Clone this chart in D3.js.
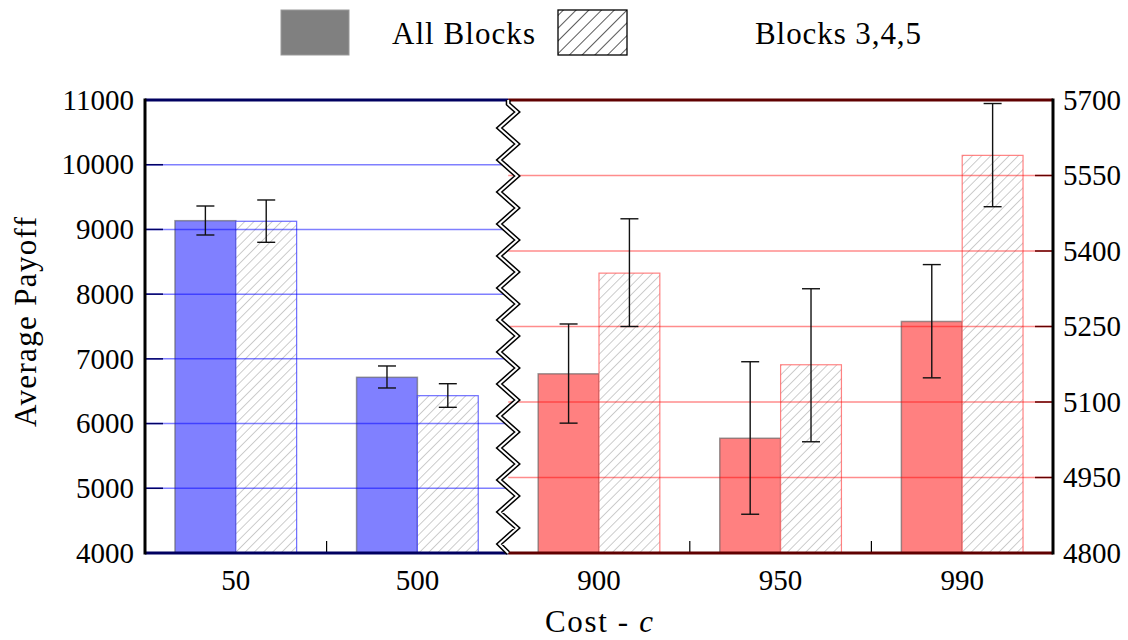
<!DOCTYPE html>
<html>
<head>
<meta charset="utf-8">
<script src="https://cdn.jsdelivr.net/npm/d3@7"></script>
<style>
  body { margin: 0; background: #fff; }
  svg text { font-family: "Liberation Serif", "DejaVu Serif", serif; fill: #000; }
</style>
</head>
<body>
<div id="chart"></div>
<script>
// data
var categories = ["50", "500", "900", "950", "990"];
var allBlocks = [9135, 6715, 5156, 5028, 5260];
var allBlocksLow = [8914, 6550, 5058, 4877, 5148];
var allBlocksHigh = [9362, 6890, 5255, 5180, 5373];
var blocks345 = [9126, 6431, 5356, 5174, 5590];
var blocks345Low = [8801, 6251, 5250, 5021, 5488];
var blocks345High = [9455, 6616, 5464, 5325, 5693];
var leftTicks = [4000, 5000, 6000, 7000, 8000, 9000, 10000, 11000];
var rightTicks = [4800, 4950, 5100, 5250, 5400, 5550, 5700];
var leftCount = 2; // first two categories use the left axis

var svgWidth = 1128;
var svgHeight = 640;
var margin = { top: 100, right: 75, bottom: 87, left: 145 };
var chartWidth = svgWidth - margin.left - margin.right;
var chartHeight = svgHeight - margin.top - margin.bottom;
var tickFont = "29px";
var labelFont = "31px";

var svg = d3.select("#chart").append("svg")
  .attr("width", svgWidth)
  .attr("height", svgHeight);

var defs = svg.append("defs");
function hatch(id, color, size, width) {
  var p = defs.append("pattern")
    .attr("id", id)
    .attr("patternUnits", "userSpaceOnUse")
    .attr("width", size)
    .attr("height", size)
    .attr("patternTransform", "rotate(45)");
  p.append("rect").attr("width", size).attr("height", size).attr("fill", "#fff");
  p.append("line")
    .attr("x1", 0).attr("y1", 0).attr("x2", 0).attr("y2", size)
    .attr("stroke", color).attr("stroke-width", width);
}
hatch("hatchBar", "#9a9a9a", 6.5, 1);
hatch("hatchLegend", "#000", 9, 1.3);

var chartGroup = svg.append("g")
  .attr("transform", `translate(${margin.left}, ${margin.top})`);

var xScale = d3.scaleBand()
  .domain(categories)
  .range([0, chartWidth]);
var bw = xScale.bandwidth();
var breakX = xScale(categories[leftCount]);

var xSub = d3.scaleBand()
  .domain(["all", "b345"])
  .range([-bw * 0.335, bw * 0.335]);

var yLeft = d3.scaleLinear().domain([4000, 11000]).range([chartHeight, 0]);
var yRight = d3.scaleLinear().domain([4800, 5700]).range([chartHeight, 0]);

var rows = categories.map(function (c, i) {
  return {
    cat: c, left: i < leftCount,
    all: allBlocks[i], allLo: allBlocksLow[i], allHi: allBlocksHigh[i],
    b: blocks345[i], bLo: blocks345Low[i], bHi: blocks345High[i]
  };
});
function yOf(d) { return d.left ? yLeft : yRight; }
function cx(d) { return xScale(d.cat) + bw / 2; }

// bars
chartGroup.append("g").selectAll("rect")
  .data(rows)
  .enter().append("rect")
  .attr("x", d => cx(d) + xSub("all"))
  .attr("width", xSub.bandwidth())
  .attr("y", d => yOf(d)(d.all))
  .attr("height", d => chartHeight - yOf(d)(d.all))
  .attr("fill", d => d.left ? "#8080ff" : "#ff8080")
  .attr("stroke", "rgba(90,90,90,0.6)").attr("stroke-width", 1.5);

chartGroup.append("g").selectAll("rect")
  .data(rows)
  .enter().append("rect")
  .attr("x", d => cx(d) + xSub("b345"))
  .attr("width", xSub.bandwidth())
  .attr("y", d => yOf(d)(d.b))
  .attr("height", d => chartHeight - yOf(d)(d.b))
  .attr("fill", "url(#hatchBar)")
  .attr("stroke", d => d.left ? "rgba(60,60,255,0.75)" : "rgba(255,90,90,0.75)")
  .attr("stroke-width", 1.2);

// grid lines, drawn over the bars
chartGroup.append("g").selectAll("line")
  .data(leftTicks.slice(1, -1))
  .enter().append("line")
  .attr("x1", 0).attr("x2", breakX)
  .attr("y1", d => yLeft(d)).attr("y2", d => yLeft(d))
  .attr("stroke", "rgba(0,0,255,0.5)").attr("stroke-width", 1.5);
chartGroup.append("g").selectAll("line")
  .data(rightTicks.slice(1, -1))
  .enter().append("line")
  .attr("x1", breakX).attr("x2", chartWidth)
  .attr("y1", d => yRight(d)).attr("y2", d => yRight(d))
  .attr("stroke", "rgba(255,0,0,0.45)").attr("stroke-width", 1.5);

// inner ticks
chartGroup.append("g").selectAll("line")
  .data(leftTicks.slice(1, -1))
  .enter().append("line")
  .attr("x1", 0).attr("x2", 18)
  .attr("y1", d => yLeft(d)).attr("y2", d => yLeft(d))
  .attr("stroke", "#000066").attr("stroke-width", 1.5);
chartGroup.append("g").selectAll("line")
  .data(rightTicks.slice(1, -1))
  .enter().append("line")
  .attr("x1", chartWidth - 18).attr("x2", chartWidth)
  .attr("y1", d => yRight(d)).attr("y2", d => yRight(d))
  .attr("stroke", "#660000").attr("stroke-width", 1.5);

// error bars
var errs = [];
rows.forEach(function (d) {
  errs.push({ d: d, x: cx(d) + xSub("all") + xSub.bandwidth() / 2, lo: d.allLo, hi: d.allHi });
  errs.push({ d: d, x: cx(d) + xSub("b345") + xSub.bandwidth() / 2, lo: d.bLo, hi: d.bHi });
});
var eg = chartGroup.append("g").selectAll("g").data(errs).enter().append("g")
  .attr("stroke", "#111").attr("stroke-width", 1.4);
eg.append("line")
  .attr("x1", e => e.x).attr("x2", e => e.x)
  .attr("y1", e => yOf(e.d)(e.lo)).attr("y2", e => yOf(e.d)(e.hi));
eg.append("line")
  .attr("x1", e => e.x - 9).attr("x2", e => e.x + 9)
  .attr("y1", e => yOf(e.d)(e.lo)).attr("y2", e => yOf(e.d)(e.lo));
eg.append("line")
  .attr("x1", e => e.x - 9).attr("x2", e => e.x + 9)
  .attr("y1", e => yOf(e.d)(e.hi)).attr("y2", e => yOf(e.d)(e.hi));

// minor ticks between categories
chartGroup.append("g").selectAll("line")
  .data(categories.slice(1).filter((c, i) => i + 1 !== leftCount))
  .enter().append("line")
  .attr("x1", d => xScale(d)).attr("x2", d => xScale(d))
  .attr("y1", chartHeight).attr("y2", chartHeight - 12)
  .attr("stroke", "#000").attr("stroke-width", 1.2);

// frame
chartGroup.append("line").attr("x1", 0).attr("x2", breakX).attr("y1", 0).attr("y2", 0)
  .attr("stroke", "#000060").attr("stroke-width", 3);
chartGroup.append("line").attr("x1", breakX).attr("x2", chartWidth).attr("y1", 0).attr("y2", 0)
  .attr("stroke", "#600000").attr("stroke-width", 3);
chartGroup.append("line").attr("x1", 0).attr("x2", breakX).attr("y1", chartHeight).attr("y2", chartHeight)
  .attr("stroke", "#000060").attr("stroke-width", 3);
chartGroup.append("line").attr("x1", breakX).attr("x2", chartWidth).attr("y1", chartHeight).attr("y2", chartHeight)
  .attr("stroke", "#600000").attr("stroke-width", 3);
chartGroup.append("line").attr("x1", 0).attr("x2", 0).attr("y1", -1.5).attr("y2", chartHeight + 1.5)
  .attr("stroke", "#000").attr("stroke-width", 3);
chartGroup.append("line").attr("x1", chartWidth).attr("x2", chartWidth).attr("y1", -1.5).attr("y2", chartHeight + 1.5)
  .attr("stroke", "#000").attr("stroke-width", 3);

// axis break zigzag
var zig = [[breakX, 0], [breakX, 4]];
var period = 32, amp = 9;
for (var yy = 4; yy < chartHeight - 4; yy += period / 2) {
  var k = Math.round((yy - 4) / (period / 2));
  zig.push([breakX + (k % 2 === 0 ? amp : -amp), Math.min(yy + period / 4, chartHeight - 4)]);
}
zig.push([breakX, chartHeight]);
var zigLine = d3.line();
chartGroup.append("path").attr("d", zigLine(zig))
  .attr("fill", "none").attr("stroke", "#000").attr("stroke-width", 5);
chartGroup.append("path").attr("d", zigLine(zig))
  .attr("fill", "none").attr("stroke", "#fff").attr("stroke-width", 2);

// axes labels
var leftAxis = d3.axisLeft(yLeft).tickValues(leftTicks).tickSize(0).tickPadding(11).tickFormat(d3.format("d"));
var rightAxis = d3.axisRight(yRight).tickValues(rightTicks).tickSize(0).tickPadding(10).tickFormat(d3.format("d"));
var bottomAxis = d3.axisBottom(xScale).tickSize(0).tickPadding(16);

var gl = chartGroup.append("g").call(leftAxis);
var gr = chartGroup.append("g").attr("transform", `translate(${chartWidth}, 0)`).call(rightAxis);
var gb = chartGroup.append("g").attr("transform", `translate(0, ${chartHeight})`).call(bottomAxis);
[gl, gr, gb].forEach(function (g) {
  g.select(".domain").remove();
  g.selectAll("text")
    .style("font-family", "'Liberation Serif', serif")
    .style("font-size", tickFont).attr("fill", "#000");
});
gb.selectAll("text").attr("dy", "0.71em");

svg.append("text")
  .attr("transform", "rotate(-90)")
  .attr("x", -322)
  .attr("y", 36)
  .attr("text-anchor", "middle")
  .attr("textLength", 210).attr("lengthAdjust", "spacing")
  .style("font-size", labelFont)
  .text("Average Payoff");

var xl = svg.append("text")
  .attr("x", 545)
  .attr("y", 632)
  .attr("textLength", 108).attr("lengthAdjust", "spacing")
  .style("font-size", labelFont);
xl.append("tspan").text("Cost - ");
xl.append("tspan").style("font-style", "italic").text("c");

// legend
var legend = svg.append("g");
legend.append("rect").attr("x", 281).attr("y", 10).attr("width", 68).attr("height", 45)
  .attr("fill", "#808080").attr("stroke", "#999").attr("stroke-width", 1);
legend.append("text").attr("x", 392).attr("y", 44)
  .attr("textLength", 143).attr("lengthAdjust", "spacing")
  .style("font-size", labelFont).text("All Blocks");
legend.append("rect").attr("x", 558).attr("y", 10).attr("width", 69).attr("height", 45)
  .attr("fill", "url(#hatchLegend)").attr("stroke", "#000").attr("stroke-width", 1.3);
legend.append("text").attr("x", 755).attr("y", 44)
  .attr("textLength", 166).attr("lengthAdjust", "spacing")
  .style("font-size", labelFont).text("Blocks 3,4,5");
</script>
</body>
</html>
